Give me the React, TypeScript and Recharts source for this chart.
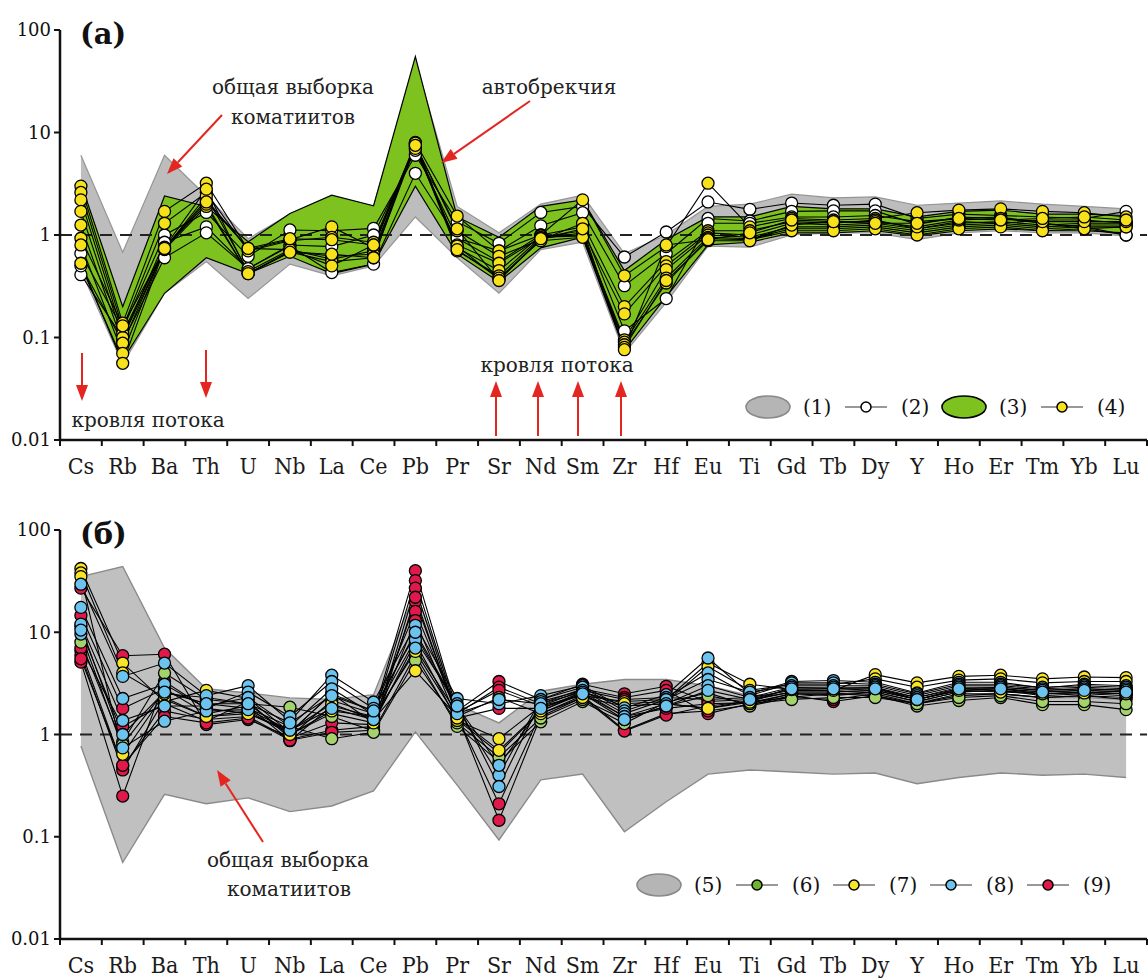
import { ComposedChart, Area, Line, XAxis, YAxis, ReferenceLine } from 'recharts';

const elements = ['Cs', 'Rb', 'Ba', 'Th', 'U', 'Nb', 'La', 'Ce', 'Pb', 'Pr', 'Sr', 'Nd', 'Sm', 'Zr', 'Hf', 'Eu', 'Ti', 'Gd', 'Tb', 'Dy', 'Y', 'Ho', 'Er', 'Tm', 'Yb', 'Lu'];
const yTicks = [0.01, 0.1, 1, 10, 100];

// panel (a): (1) all komatiites, (3) autobreccia range
const greyLoA = [0.45, 0.055, 0.27, 0.55, 0.24, 0.52, 0.4, 0.5, 1.5, 0.6, 0.27, 0.72, 0.85, 0.07, 0.22, 0.78, 0.76, 1.0, 1.05, 1.05, 0.9, 1.05, 1.1, 1.05, 1.05, 0.98];
const greyHiA = [6.0, 0.68, 6.0, 2.4, 0.92, 1.6, 2.4, 1.9, 50, 1.9, 1.05, 2.0, 2.45, 0.66, 1.0, 1.9, 2.0, 2.5, 2.3, 2.35, 1.95, 2.05, 2.15, 2.0, 1.9, 1.8];
const greenLoA = [0.5, 0.06, 0.27, 0.6, 0.42, 0.62, 0.42, 0.52, 3.0, 0.65, 0.35, 0.75, 0.95, 0.075, 0.25, 0.8, 0.85, 1.05, 1.05, 1.1, 0.98, 1.1, 1.15, 1.1, 1.1, 1.05];
const greenHiA = [3.2, 0.2, 2.4, 1.9, 0.86, 1.62, 2.45, 1.93, 55, 1.5, 0.95, 1.9, 2.2, 0.45, 0.9, 1.5, 1.5, 1.9, 1.8, 1.8, 1.5, 1.7, 1.75, 1.6, 1.6, 1.55];

// (2) flow top samples, white markers
const whiteA = [
  [0.66, 0.12, 1.0, 1.66, 0.62, 1.12, 1.1, 1.16, 6.0, 1.35, 0.83, 1.66, 1.9, 0.61, 1.07, 2.1, 1.78, 2.05, 1.95, 2.0, 1.45, 1.6, 1.55, 1.5, 1.45, 1.7],
  [0.41, 0.1, 0.85, 1.2, 0.47, 0.8, 0.77, 1.0, 6.7, 0.93, 0.7, 1.23, 1.65, 0.32, 0.66, 1.45, 1.37, 1.7, 1.72, 1.72, 1.27, 1.5, 1.45, 1.3, 1.2, 1.0],
  [0.5, 0.09, 0.6, 1.05, 0.47, 0.78, 0.43, 0.52, 4.0, 0.93, 0.55, 1.0, 1.2, 0.116, 0.24, 1.3, 1.3, 1.5, 1.5, 1.55, 1.35, 1.45, 1.5, 1.3, 1.15, 1.0],
];

// (4) autobreccia samples, yellow markers
const yellowA = [
  [3.0, 0.138, 1.7, 3.2, 0.72, 0.9, 1.2, 0.75, 8.0, 1.53, 0.7, 1.0, 2.2, 0.4, 0.77, 3.2, 1.2, 1.45, 1.4, 1.45, 1.65, 1.75, 1.8, 1.7, 1.65, 1.5],
  [2.6, 0.124, 1.3, 2.6, 0.7, 0.88, 0.95, 0.85, 7.6, 1.1, 0.62, 0.9, 1.3, 0.2, 0.55, 1.1, 1.1, 1.35, 1.3, 1.4, 1.15, 1.35, 1.3, 1.4, 1.4, 1.3],
  [2.2, 0.11, 0.75, 2.2, 0.74, 0.72, 0.58, 0.7, 7.2, 0.8, 0.53, 0.95, 1.1, 0.17, 0.5, 1.05, 1.0, 1.3, 1.25, 1.3, 1.15, 1.3, 1.35, 1.25, 1.3, 1.3],
  [1.7, 0.1, 0.72, 1.9, 0.42, 0.7, 0.62, 0.65, 7.8, 0.75, 0.45, 0.98, 1.0, 0.095, 0.46, 1.0, 0.95, 1.2, 1.2, 1.25, 1.1, 1.25, 1.3, 1.2, 1.25, 1.25],
  [1.25, 0.088, 0.74, 2.0, 0.42, 0.68, 0.55, 0.6, 7.4, 0.7, 0.4, 0.95, 0.98, 0.09, 0.38, 0.95, 0.92, 1.15, 1.15, 1.2, 1.05, 1.2, 1.25, 1.15, 1.2, 1.2],
  [0.93, 0.13, 0.73, 2.4, 0.44, 0.72, 0.5, 0.8, 7.0, 0.78, 0.37, 0.92, 1.05, 0.085, 0.34, 0.92, 0.9, 1.1, 1.1, 1.15, 1.0, 1.15, 1.2, 1.1, 1.15, 1.2],
  [0.8, 0.07, 0.76, 2.8, 0.42, 0.68, 0.65, 0.6, 7.9, 0.72, 0.38, 0.88, 0.95, 0.08, 0.36, 0.88, 0.88, 1.25, 1.35, 1.35, 1.2, 1.4, 1.45, 1.35, 1.35, 1.35],
  [0.53, 0.056, 0.74, 2.1, 0.74, 0.92, 0.9, 0.8, 7.5, 1.15, 0.36, 0.92, 1.15, 0.076, 0.8, 0.9, 1.05, 1.4, 1.35, 1.3, 1.3, 1.45, 1.4, 1.45, 1.5, 1.4],
];

// panel (б): (5) all komatiites
const greyLoB = [0.77, 0.056, 0.26, 0.21, 0.24, 0.176, 0.2, 0.28, 1.06, 0.32, 0.093, 0.36, 0.41, 0.112, 0.22, 0.41, 0.45, 0.43, 0.41, 0.42, 0.33, 0.38, 0.42, 0.4, 0.41, 0.38];
const greyHiB = [35, 44, 7.0, 2.8, 2.55, 2.28, 2.2, 2.45, 25, 1.96, 1.3, 2.65, 3.1, 3.45, 3.45, 3.0, 2.4, 2.5, 2.5, 2.5, 2.1, 2.4, 2.5, 2.3, 2.3, 2.2];

// (6)-(9) sample groups
const greenB = [
  [11.4, 0.85, 4.0, 2.2, 2.0, 1.85, 1.5, 1.08, 6.0, 1.2, 0.54, 1.33, 2.1, 1.28, 2.08, 2.55, 1.9, 2.33, 2.5, 2.4, 1.9, 2.15, 2.3, 1.96, 1.96, 1.75],
  [8.0, 0.8, 2.65, 2.0, 1.8, 1.2, 0.91, 1.05, 5.3, 1.3, 0.6, 1.45, 2.2, 1.4, 1.9, 2.4, 2.0, 2.2, 2.3, 2.3, 2.0, 2.3, 2.4, 2.1, 2.1, 2.0],
];
const yellowB = [
  [42, 5.0, 2.1, 2.7, 2.25, 1.05, 2.5, 1.3, 8.0, 1.37, 0.91, 1.9, 2.4, 2.1, 2.2, 5.0, 3.1, 2.75, 2.7, 3.85, 3.2, 3.7, 3.8, 3.5, 3.65, 3.6],
  [38, 4.0, 2.3, 1.5, 1.6, 1.1, 2.0, 1.4, 4.2, 1.5, 2.3, 1.6, 2.3, 1.9, 2.0, 1.8, 2.07, 2.9, 2.8, 2.9, 2.2, 2.7, 2.6, 2.5, 2.55, 2.5],
  [35, 0.64, 2.5, 2.3, 2.0, 1.0, 1.7, 1.5, 6.5, 1.45, 0.7, 1.7, 2.6, 2.0, 2.1, 4.6, 2.7, 3.1, 3.1, 3.5, 2.9, 3.4, 3.5, 3.2, 3.3, 3.3],
];
const blueB = [
  [29.5, 3.7, 5.0, 2.4, 3.0, 1.35, 3.8, 2.08, 11.7, 2.25, 2.0, 2.4, 3.0, 1.82, 2.45, 5.6, 2.5, 3.3, 3.37, 3.24, 2.55, 3.24, 3.24, 2.85, 3.1, 3.0],
  [17.5, 2.25, 3.1, 1.8, 2.6, 1.5, 3.3, 1.8, 9.5, 1.8, 0.4, 2.2, 2.9, 1.7, 2.3, 4.0, 2.4, 3.2, 3.2, 3.1, 2.5, 3.1, 3.1, 2.9, 3.0, 2.9],
  [12, 1.37, 1.9, 1.9, 2.3, 1.2, 2.8, 1.57, 8.5, 2.0, 0.31, 2.1, 2.7, 1.6, 2.2, 3.45, 2.6, 3.0, 3.0, 3.0, 2.4, 3.0, 3.0, 2.8, 2.9, 2.8],
  [9.6, 0.74, 1.35, 1.7, 1.75, 1.1, 1.8, 1.4, 7.0, 1.6, 2.2, 2.0, 2.6, 1.5, 2.0, 3.0, 2.3, 2.9, 2.9, 2.9, 2.3, 2.9, 2.9, 2.7, 2.8, 2.7],
  [10.5, 1.0, 2.6, 2.0, 2.0, 1.3, 2.4, 1.7, 10, 1.9, 0.5, 1.8, 2.5, 1.4, 1.9, 2.7, 2.2, 2.8, 2.8, 2.8, 2.2, 2.8, 2.8, 2.6, 2.7, 2.6],
];
const redB = [
  [27, 5.9, 6.1, 1.25, 1.4, 0.95, 2.15, 1.6, 40, 1.7, 3.3, 2.2, 3.1, 2.5, 2.96, 2.1, 2.2, 2.6, 2.6, 2.7, 2.2, 2.7, 2.8, 2.6, 2.7, 2.6],
  [14.6, 1.8, 2.8, 1.6, 1.9, 0.87, 1.9, 1.5, 32, 1.6, 2.9, 2.0, 2.8, 2.3, 2.7, 1.6, 2.0, 2.5, 2.4, 2.6, 2.1, 2.6, 2.7, 2.5, 2.6, 2.5],
  [6.6, 0.49, 1.7, 1.4, 1.5, 0.9, 1.1, 1.2, 27, 1.5, 0.21, 1.6, 2.4, 1.1, 1.6, 1.7, 1.95, 2.4, 2.1, 2.4, 2.0, 2.5, 2.5, 2.3, 2.4, 2.3],
  [6.0, 0.45, 2.2, 1.5, 1.7, 1.0, 1.6, 1.3, 20, 1.55, 0.145, 1.5, 2.3, 1.08, 1.55, 1.9, 2.1, 2.3, 2.2, 2.5, 2.0, 2.4, 2.5, 2.3, 2.4, 2.2],
  [5.1, 0.25, 3.3, 1.8, 1.6, 1.05, 2.5, 1.7, 16, 1.65, 2.7, 1.9, 2.7, 2.2, 2.3, 2.2, 2.3, 2.7, 2.7, 2.8, 2.3, 2.8, 2.9, 2.7, 2.8, 2.7],
  [7.0, 1.2, 2.0, 1.35, 2.1, 0.92, 1.3, 1.25, 13, 1.4, 0.66, 1.7, 2.5, 1.5, 1.8, 2.0, 2.05, 2.5, 2.5, 2.6, 2.1, 2.6, 2.7, 2.4, 2.5, 2.4],
  [5.5, 0.5, 1.5, 1.3, 1.45, 0.88, 1.05, 1.1, 22, 1.45, 1.8, 1.8, 2.6, 1.9, 2.0, 1.8, 2.15, 2.6, 2.6, 2.7, 2.2, 2.7, 2.8, 2.5, 2.6, 2.5],
];

const SERIF = 'DejaVu Serif';
const RED = '#e3261f';
const CHART_W = 1148;
const Y_AXIS_W = 60;
const RIGHT = 1;
const BAND = (CHART_W - Y_AXIS_W - RIGHT) / elements.length;

type Group = { key: string; fill: string; samples: number[][] };
type Band = { key: string; lo: number[]; hi: number[]; fill: string; stroke: string; width: number };

function buildRows(bands: Band[], groups: Group[]) {
  return elements.map((el, i) => {
    const row: Record<string, any> = { i, el };
    bands.forEach((b) => (row[b.key] = [b.lo[i], b.hi[i]]));
    groups.forEach((g) => g.samples.forEach((s, n) => (row[`${g.key}${n}`] = s[i])));
    return row;
  });
}

function ElementTick({ x, y, payload }: any) {
  const half = BAND / 2;
  const last = payload.value === elements.length - 1;
  return (
    <g>
      <line x1={x - half} x2={x - half} y1={y} y2={y + 6} stroke="#111" strokeWidth={2} />
      {last && <line x1={x + half} x2={x + half} y1={y} y2={y + 6} stroke="#111" strokeWidth={2} />}
      <text x={x} y={y + 34} textAnchor="middle" fontSize={23} fontFamily={SERIF} fontStretch="condensed" fill="#1a1a1a">
        {elements[payload.value]}
      </text>
    </g>
  );
}

function SpiderChart({ height, top, axisH, bands, groups }: {
  height: number; top: number; axisH: number; bands: Band[]; groups: Group[];
}) {
  const rows = buildRows(bands, groups);
  return (
    <ComposedChart width={CHART_W} height={height} data={rows} margin={{ top, right: RIGHT, bottom: 0, left: 0 }}>
      <XAxis
        dataKey="i"
        type="number"
        domain={[-0.5, elements.length - 0.5]}
        ticks={elements.map((_, i) => i)}
        interval={0}
        height={axisH}
        tickSize={0}
        tickMargin={0}
        tickLine={false}
        axisLine={{ stroke: '#111', strokeWidth: 2.5 }}
        tick={<ElementTick />}
      />
      <YAxis
        type="number"
        scale="log"
        domain={[0.01, 100]}
        ticks={yTicks}
        allowDataOverflow
        width={Y_AXIS_W}
        tickSize={6}
        tickMargin={3}
        axisLine={{ stroke: '#111', strokeWidth: 2.5 }}
        tickLine={{ stroke: '#111', strokeWidth: 2 }}
        tick={{ fontSize: 18, fontFamily: SERIF, fill: '#111' }}
        tickFormatter={(v: number) => String(v)}
      />
      {bands.map((b) => (
        <Area
          key={b.key}
          type="linear"
          dataKey={b.key}
          fill={b.fill}
          fillOpacity={1}
          stroke={b.stroke}
          strokeWidth={b.width}
          dot={false}
          activeDot={false}
          isAnimationActive={false}
        />
      ))}
      <ReferenceLine y={1} stroke="#222" strokeWidth={1.8} strokeDasharray="12 8" />
      {groups.map((g) =>
        g.samples.map((_, n) => (
          <Line
            key={`${g.key}${n}`}
            type="linear"
            dataKey={`${g.key}${n}`}
            stroke="#000"
            strokeWidth={1.1}
            dot={{ r: 6, fill: g.fill, stroke: '#000', strokeWidth: 1.3 }}
            activeDot={false}
            isAnimationActive={false}
          />
        ))
      )}
    </ComposedChart>
  );
}

function Arrow({ x1, y1, x2, y2 }: { x1: number; y1: number; x2: number; y2: number }) {
  const a = Math.atan2(y2 - y1, x2 - x1);
  const len = 16;
  const w = 6;
  const bx = x2 - len * Math.cos(a);
  const by = y2 - len * Math.sin(a);
  const px = -Math.sin(a) * w;
  const py = Math.cos(a) * w;
  return (
    <g>
      <line x1={x1} y1={y1} x2={bx} y2={by} stroke={RED} strokeWidth={2} />
      <polygon points={`${x2},${y2} ${bx + px},${by + py} ${bx - px},${by - py}`} fill={RED} />
    </g>
  );
}

function LegendItem({ x, y, kind, fill, stroke, label }: { x: number; y: number; kind: 'area' | 'line'; fill: string; stroke?: string; label: string }) {
  return (
    <g>
      {kind === 'area' ? (
        <ellipse cx={x + 22} cy={y} rx={22} ry={11} fill={fill} stroke={stroke} strokeWidth={1.6} />
      ) : (
        <g>
          <line x1={x} x2={x + 42} y1={y} y2={y} stroke="#333" strokeWidth={1} />
          <circle cx={x + 21} cy={y} r={5} fill={fill} stroke="#000" strokeWidth={1.5} />
        </g>
      )}
      <text x={x + (kind === 'area' ? 57 : 56)} y={y + 7} fontSize={20} fontFamily={SERIF} fill="#111">{label}</text>
    </g>
  );
}

const txt = { fontSize: 20, fontFamily: SERIF, fill: '#222', textAnchor: 'middle' as const };

export default function App() {
  const bandsA: Band[] = [
    { key: 'grey', lo: greyLoA, hi: greyHiA, fill: '#bdbdbd', stroke: '#959595', width: 1.2 },
    { key: 'green', lo: greenLoA, hi: greenHiA, fill: '#7dc21e', stroke: '#000', width: 1.2 },
  ];
  const groupsA: Group[] = [
    { key: 'w', fill: '#ffffff', samples: whiteA },
    { key: 'y', fill: '#f7e11b', samples: yellowA },
  ];
  const bandsB: Band[] = [{ key: 'grey', lo: greyLoB, hi: greyHiB, fill: '#c0c0c0', stroke: '#8a8a8a', width: 1.4 }];
  const groupsB: Group[] = [
    { key: 'r', fill: '#e0194b', samples: redB },
    { key: 'g', fill: '#a5d36b', samples: greenB },
    { key: 'y', fill: '#f8e52a', samples: yellowB },
    { key: 'b', fill: '#6cc4ee', samples: blueB },
  ];

  return (
    <div style={{ position: 'absolute', left: 0, top: 0, width: 1148, height: 979, background: '#fff', overflow: 'hidden' }}>
      <SpiderChart height={490} top={30} axisH={50} bands={bandsA} groups={groupsA} />
      <SpiderChart height={489} top={40} axisH={40} bands={bandsB} groups={groupsB} />
      <svg width={1148} height={979} style={{ position: 'absolute', left: 0, top: 0, pointerEvents: 'none' }}>
        <text x={80} y={44} fontSize={29} fontWeight="bold" fontFamily={SERIF} fill="#111">(a)</text>
        <text x={80} y={544} fontSize={29} fontWeight="bold" fontFamily={SERIF} fill="#111">(б)</text>

        <text x={293} y={94} {...txt}>общая выборка</text>
        <text x={293} y={124} {...txt}>коматиитов</text>
        <Arrow x1={222} y1={115} x2={167} y2={174} />
        <text x={549} y={94} {...txt}>автобрекчия</text>
        <Arrow x1={530} y1={101} x2={441} y2={163} />

        <Arrow x1={82} y1={353} x2={82} y2={401} />
        <Arrow x1={206} y1={350} x2={206} y2={398} />
        <text x={148} y={427} {...txt}>кровля потока</text>

        {[496, 538, 578, 621].map((x) => (
          <Arrow key={x} x1={x} y1={436} x2={x} y2={381} />
        ))}
        <text x={557} y={372} {...txt}>кровля потока</text>

        <LegendItem x={746} y={407} kind="area" fill="#b5b5b5" stroke="#8a8a8a" label="(1)" />
        <LegendItem x={845} y={407} kind="line" fill="#fff" label="(2)" />
        <LegendItem x={942} y={407} kind="area" fill="#7dc21e" stroke="#000" label="(3)" />
        <LegendItem x={1041} y={407} kind="line" fill="#f7e11b" label="(4)" />

        <text x={288} y={867} {...txt}>общая выборка</text>
        <text x={289} y={896} {...txt}>коматиитов</text>
        <Arrow x1={263} y1={842} x2={217} y2={770} />

        <LegendItem x={637} y={885} kind="area" fill="#b5b5b5" stroke="#8a8a8a" label="(5)" />
        <LegendItem x={736} y={885} kind="line" fill="#6cb52d" label="(6)" />
        <LegendItem x={833} y={885} kind="line" fill="#f8e52a" label="(7)" />
        <LegendItem x={930} y={885} kind="line" fill="#6cc4ee" label="(8)" />
        <LegendItem x={1027} y={885} kind="line" fill="#e0194b" label="(9)" />
      </svg>
    </div>
  );
}
